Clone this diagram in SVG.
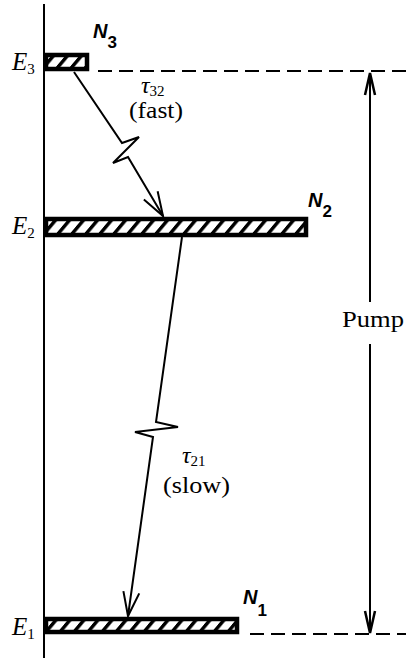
<svg xmlns="http://www.w3.org/2000/svg" width="406" height="664" viewBox="0 0 406 664">
<style>
.ln{stroke:#000;stroke-width:2;fill:none}
.dash{stroke:#000;stroke-width:2;stroke-dasharray:14 7;fill:none}
.bar{fill:url(#hatch);stroke:#000;stroke-width:4.5}
.E{font-family:"Liberation Serif",serif;font-style:italic;font-size:25px;fill:#000}
.Es{font-family:"Liberation Serif",serif;font-style:normal;font-size:15px;fill:#000}
.N{font-family:"Liberation Sans",sans-serif;font-style:italic;font-weight:bold;font-size:20px;fill:#000}
.Ns{font-family:"Liberation Sans",sans-serif;font-style:normal;font-weight:bold;font-size:17px;fill:#000}
.t{font-family:"Liberation Serif",serif;font-size:23px;fill:#000}
.tau{font-family:"Liberation Serif",serif;font-style:italic;font-size:24px;fill:#000}
.ts{font-family:"Liberation Serif",serif;font-style:normal;font-size:15px;fill:#000}
</style>
<defs>
<pattern id="hatch" width="14" height="10" patternUnits="userSpaceOnUse" patternTransform="skewX(-40)">
<rect x="0" y="0" width="14" height="10" fill="#fff"/>
<rect x="0" y="0" width="4.5" height="10" fill="#000"/>
</pattern>
<marker id="ah" markerWidth="30" markerHeight="20" refX="0" refY="0" viewBox="-26 -10 30 20" orient="auto" markerUnits="userSpaceOnUse">
<path d="M-24,-8 L0,0 L-24,8" fill="none" stroke="#000" stroke-width="2"/>
</marker>
<marker id="ap" markerWidth="30" markerHeight="16" refX="0" refY="0" viewBox="-26 -8 30 16" orient="auto" markerUnits="userSpaceOnUse">
<path d="M-22,-5 L0,0 L-22,5" fill="none" stroke="#000" stroke-width="2.5"/>
</marker>
</defs>
<rect width="406" height="664" fill="#fff"/>

<g id="axis">
<line class="ln" x1="44" y1="4" x2="44" y2="658"/>
</g>

<g id="level-E3">
<rect class="bar" x="46" y="55" width="41" height="14"/>
<line class="dash" x1="98" y1="71" x2="406" y2="71"/>
<text class="E" x="12" y="70">E<tspan class="Es" dy="4">3</tspan></text>
<text class="N" x="93" y="38">N<tspan class="Ns" dy="10">3</tspan></text>
</g>

<g id="level-E2">
<rect class="bar" x="46" y="219" width="260" height="16"/>
<text class="E" x="12" y="234">E<tspan class="Es" dy="4">2</tspan></text>
<text class="N" x="308" y="207">N<tspan class="Ns" dy="10">2</tspan></text>
</g>

<g id="level-E1">
<rect class="bar" x="46" y="619" width="191" height="13"/>
<line class="dash" x1="250" y1="634" x2="406" y2="634"/>
<text class="E" x="12" y="635">E<tspan class="Es" dy="4">1</tspan></text>
<text class="N" x="243" y="604">N<tspan class="Ns" dy="12">1</tspan></text>
</g>

<g id="connectors">
<polyline class="ln" points="74,72 122,143 139,137 113,163 128,157 163,216" marker-end="url(#ah)"/>
<polyline class="ln" points="182,237 156,422 178,427 135,432 153,437 128,616" marker-end="url(#ah)"/>
<line class="ln" x1="370" y1="302" x2="370" y2="73" marker-end="url(#ap)"/>
<line class="ln" x1="370" y1="344" x2="370" y2="633" marker-end="url(#ap)"/>
</g>

<g id="label-fast">
<text class="tau" x="141" y="93">τ<tspan class="ts" dy="3">32</tspan></text>
<text class="t" x="129" y="118" textLength="54" lengthAdjust="spacingAndGlyphs">(fast)</text>
</g>
<g id="label-slow">
<text class="tau" x="182" y="463">τ<tspan class="ts" dy="3">21</tspan></text>
<text class="t" x="163" y="493" textLength="67" lengthAdjust="spacingAndGlyphs">(slow)</text>
</g>
<g id="label-pump">
<text class="t" x="342" y="327" font-size="24" textLength="62" lengthAdjust="spacingAndGlyphs">Pump</text>
</g>
</svg>
